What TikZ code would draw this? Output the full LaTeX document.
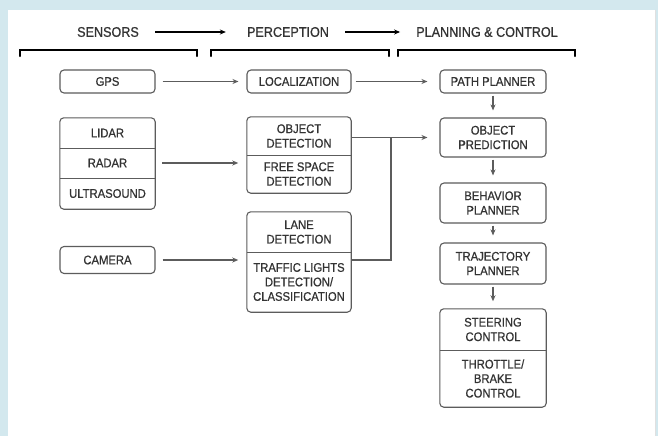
\documentclass[tikz,border=0pt]{standalone}
\usepackage{fontspec}
\setmainfont{Liberation Sans}[FakeStretch=0.9,FakeBold=0.7]
\usetikzlibrary{arrows.meta,fit}
\definecolor{skyblue}{HTML}{D3E8EE}
\definecolor{boxgray}{HTML}{5C5C5C}
\definecolor{txtgray}{HTML}{333333}
\tikzset{
  blk/.style={draw=boxgray,line width=1.1pt,rounded corners=4pt},
  cell/.style={text=txtgray,align=center,inner sep=0pt,font=\fontsize{12.5}{14.5}\selectfont},
  sens/.style={cell,minimum width=95pt},
  perc/.style={cell,minimum width=104pt},
  plan/.style={cell,minimum width=106pt},
  head/.style={text=txtgray,inner sep=0pt,font=\fontsize{14}{16}\selectfont},
  flow/.style={draw=boxgray,line width=1.1pt,-{Stealth[length=6pt,width=5pt]}},
  wire/.style={draw=boxgray,line width=1.1pt},
  bracket/.style={line width=2.4pt,line cap=round}
}
\begin{document}
\begin{tikzpicture}[x=1pt,y=-1pt]
\useasboundingbox (0,0) rectangle (658,436);
\fill[skyblue] (0,0) rectangle (658,436);
\fill[white] (8,10) rectangle (655,436);
\draw[black!12] (655,10) -- (655,436);

\node[head] (hsens) at (108,32) {SENSORS};
\node[head] (hperc) at (288,32) {PERCEPTION};
\node[head] (hplan) at (487,32) {PLANNING \& CONTROL};
\draw[flow,black,shorten <=16pt,shorten >=21pt] (hsens) -- (hperc);
\draw[flow,black,shorten <=16pt,shorten >=16pt] (hperc) -- (hplan);
\foreach \a/\b in {20/197,211/389,398/575}
  \draw[bracket] (\a,56) |- (\b,50) -- (\b,56);

\node[sens,blk,minimum height=23pt] (gps) at (107.5,81.5) {GPS};
\node[sens,minimum height=30pt] (lidar) at (107.5,133) {LIDAR};
\node[sens,minimum height=30pt] (radar) at (107.5,163) {RADAR};
\node[sens,minimum height=31pt] (ultra) at (107.5,193.5) {ULTRASOUND};
\node[blk,fit=(lidar)(ultra),inner sep=0pt] (sensbox) {};
\draw[wire] (lidar.south west) -- (lidar.south east);
\draw[wire] (radar.south west) -- (radar.south east);
\node[sens,blk,minimum height=27pt] (camera) at (107.5,260) {CAMERA};

\node[perc,blk,minimum height=23pt] (loc) at (299,81.5) {LOCALIZATION};
\node[perc,minimum height=38pt] (objdet) at (299,136) {OBJECT\\DETECTION};
\node[perc,minimum height=38pt] (free) at (299,174) {FREE SPACE\\DETECTION};
\node[blk,fit=(objdet)(free),inner sep=0pt] (objbox) {};
\draw[wire] (objdet.south west) -- (objdet.south east);
\node[perc,minimum height=40pt] (lane) at (299,232) {LANE\\DETECTION};
\node[perc,minimum height=60pt] (traffic) at (299,282) {TRAFFIC LIGHTS\\DETECTION/\\CLASSIFICATION};
\node[blk,fit=(lane)(traffic),inner sep=0pt] (lanebox) {};
\draw[wire] (lane.south west) -- (lane.south east);

\node[plan,blk,minimum height=23pt] (path) at (493,81.5) {PATH PLANNER};
\node[plan,blk,minimum height=39pt] (pred) at (493,137.5) {OBJECT\\PREDICTION};
\node[plan,blk,minimum height=40pt] (behav) at (493,203) {BEHAVIOR\\PLANNER};
\node[plan,blk,minimum height=41pt] (traj) at (493,263.5) {TRAJECTORY\\PLANNER};
\node[plan,minimum height=41pt] (steer) at (493,329.5) {STEERING\\CONTROL};
\node[plan,minimum height=57pt] (throttle) at (493,378.5) {THROTTLE/\\BRAKE\\CONTROL};
\node[blk,fit=(steer)(throttle),inner sep=0pt] (ctrlbox) {};
\draw[wire] (steer.south west) -- (steer.south east);

\draw[flow,shorten <=7pt,shorten >=8pt] (gps) -- (loc);
\draw[flow,shorten <=7pt,shorten >=8pt] (radar.east) -- (radar.east -| objbox.west);
\draw[flow,shorten <=7pt,shorten >=8pt] (camera.east) -- (camera.east -| lanebox.west);
\draw[flow,shorten <=4pt,shorten >=12pt] (loc) -- (path);
\coordinate (join) at (391,137.5);
\draw[flow,shorten >=12pt] (objbox.east |- pred.west) -- (pred.west);
\draw[wire] (lanebox.east |- camera.east) -| (join);
\draw[flow,shorten <=2pt,shorten >=7pt] (path) -- (pred);
\draw[flow,shorten <=2pt,shorten >=7pt] (pred) -- (behav);
\draw[flow,shorten <=2pt,shorten >=7pt] (behav) -- (traj);
\draw[flow,shorten <=2pt,shorten >=7pt] (traj) -- (ctrlbox);
\end{tikzpicture}
\end{document}
